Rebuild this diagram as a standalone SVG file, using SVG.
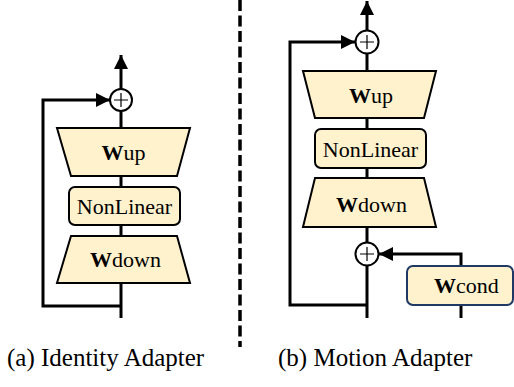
<svg xmlns="http://www.w3.org/2000/svg" width="514" height="387" viewBox="0 0 514 387">
<style>
.ln{fill:none;stroke:#000;stroke-width:3}
.box{fill:#FFF2CC;stroke:#000;stroke-width:2}
.cbox{fill:#FFF2CC;stroke:#1F3864;stroke-width:2}
.sum{fill:#fff;stroke:#000;stroke-width:2}
.plus{fill:none;stroke:#000;stroke-width:1.2}
</style>
<defs>
<marker id="ah" markerUnits="userSpaceOnUse" markerWidth="14" markerHeight="14" refX="14" refY="7" orient="auto">
<path d="M0,0 L14,7 L0,14 z" fill="#000"/>
</marker>
</defs>
<g id="connectors">
<line class="ln" x1="121" y1="318" x2="121" y2="111"/>
<line class="ln" x1="121" y1="89" x2="121" y2="55" marker-end="url(#ah)"/>
<path class="ln" d="M121,306 H43 V100 H110" marker-end="url(#ah)"/>
<line class="ln" x1="367" y1="318" x2="367" y2="54"/>
<line class="ln" x1="367" y1="30" x2="367" y2="1" marker-end="url(#ah)"/>
<path class="ln" d="M367,305 H290 V42 H355" marker-end="url(#ah)"/>
<line class="ln" x1="461" y1="318" x2="461" y2="305"/>
<path class="ln" d="M461,266 V254 H379" marker-end="url(#ah)"/>
<line x1="240" y1="0" x2="240" y2="347" stroke="#000" stroke-width="3.5" stroke-dasharray="11,4.5"/>
</g>
<g id="left-sum">
<circle class="sum" cx="121" cy="100" r="11"/>
<path class="plus" d="M114,100 H128 M121,93 V107"/>
</g>
<g id="left-wup">
<polygon class="box" points="57,128 190,128 177,176 71,176"/>
<text x="123.5" y="160" font-family="'Liberation Serif', 'Times New Roman', serif" font-size="22" text-anchor="middle"><tspan font-weight="bold">W</tspan>up</text>
</g>
<g id="left-nonlinear">
<rect class="box" x="69" y="187" width="111" height="38" rx="6"/>
<text x="124.5" y="214" font-family="'Liberation Serif', 'Times New Roman', serif" font-size="22" text-anchor="middle">NonLinear</text>
</g>
<g id="left-wdown">
<polygon class="box" points="71,236 177,236 190,283 57,283"/>
<text x="125.5" y="267" font-family="'Liberation Serif', 'Times New Roman', serif" font-size="22" text-anchor="middle"><tspan font-weight="bold">W</tspan>down</text>
</g>
<g id="right-sum-top">
<circle class="sum" cx="367" cy="42" r="11.5"/>
<path class="plus" d="M360,42 H374 M367,35 V49"/>
</g>
<g id="right-wup">
<polygon class="box" points="303,71 436,71 424,118 315,118"/>
<text x="371" y="103" font-family="'Liberation Serif', 'Times New Roman', serif" font-size="22" text-anchor="middle"><tspan font-weight="bold">W</tspan>up</text>
</g>
<g id="right-nonlinear">
<rect class="box" x="315" y="129" width="111" height="39" rx="6"/>
<text x="370.5" y="157" font-family="'Liberation Serif', 'Times New Roman', serif" font-size="22" text-anchor="middle">NonLinear</text>
</g>
<g id="right-wdown">
<polygon class="box" points="315,178 424,178 436,227 303,227"/>
<text x="371.5" y="212" font-family="'Liberation Serif', 'Times New Roman', serif" font-size="22" text-anchor="middle"><tspan font-weight="bold">W</tspan>down</text>
</g>
<g id="right-sum-bottom">
<circle class="sum" cx="367" cy="254" r="11.5"/>
<path class="plus" d="M360,254 H374 M367,247 V261"/>
</g>
<g id="right-wcond">
<rect class="cbox" x="407" y="266" width="106" height="39" rx="6"/>
<text x="466.5" y="293" font-family="'Liberation Serif', 'Times New Roman', serif" font-size="22" text-anchor="middle"><tspan font-weight="bold">W</tspan>cond</text>
</g>
<g id="captions">
<text x="7" y="366" font-family="'Liberation Serif', 'Times New Roman', serif" font-size="25">(a) Identity Adapter</text>
<text x="278" y="366" font-family="'Liberation Serif', 'Times New Roman', serif" font-size="25">(b) Motion Adapter</text>
</g>
</svg>
